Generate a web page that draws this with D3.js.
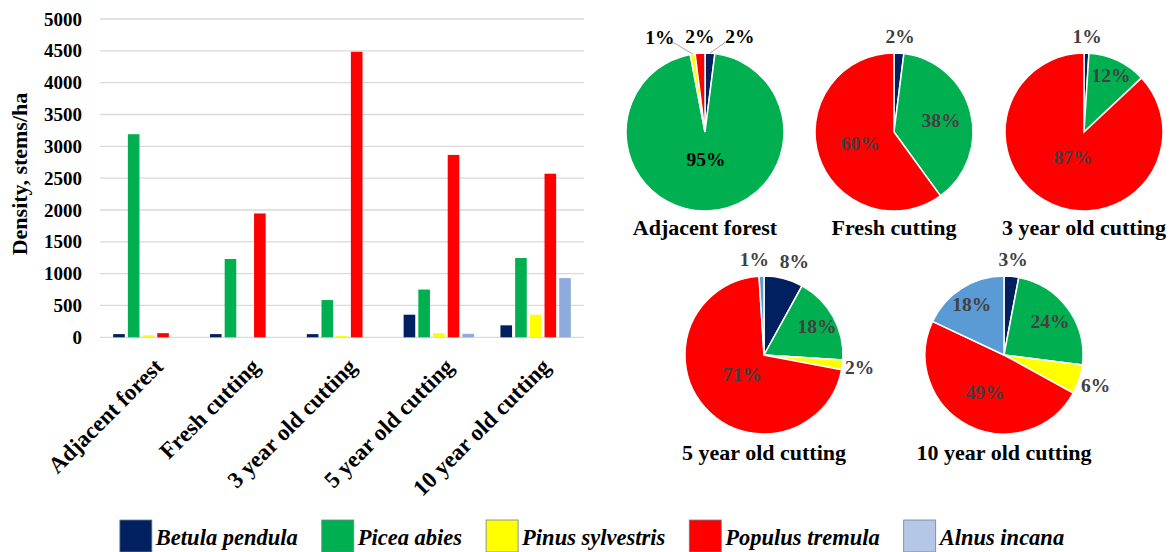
<!DOCTYPE html>
<html>
<head>
<meta charset="utf-8">
<script src="https://cdn.jsdelivr.net/npm/d3@7"></script>
<style>
  body { margin: 0; background: #fff; }
  text { font-family: "Liberation Serif", "Times New Roman", serif; font-weight: bold; }
</style>
</head>
<body>
<svg id="chart" width="1173" height="552"></svg>
<script>
// sites and species
const sites = ['Adjacent forest', 'Fresh cutting', '3 year old cutting', '5 year old cutting', '10 year old cutting'];
const species = ['Betula pendula', 'Picea abies', 'Pinus sylvestris', 'Populus tremula', 'Alnus incana'];

// density, stems/ha (bar chart), one array per species in site order
const betula = [50, 50, 50, 355, 188];
const picea = [3190, 1230, 585, 750, 1245];
const pinus = [30, 0, 20, 65, 355];
const populus = [65, 1945, 4485, 2865, 2570];
const alnus = [0, 0, 0, 55, 930];

// pie shares in %, species order
const shareAdjacent = [2, 95, 1, 2, 0];
const shareFresh = [2, 38, 0, 60, 0];
const share3yr = [1, 12, 0, 87, 0];
const share5yr = [8, 18, 2, 71, 1];
const share10yr = [3, 24, 6, 49, 18];

const yTicks = [0, 500, 1000, 1500, 2000, 2500, 3000, 3500, 4000, 4500, 5000];

const barColors = ['#002060', '#00B050', '#FFFF00', '#FF0000', '#8FAADC'];
const pieColors = ['#002060', '#00B050', '#FFFF00', '#FF0000', '#5B9BD5'];
const legendColors = ['#002060', '#00B050', '#FFFF00', '#FF0000', '#B4C7E7'];

const svg = d3.select('svg#chart');
const seriesValues = [betula, picea, pinus, populus, alnus];

// ---- bar chart ----
const x0 = d3.scaleBand().domain(sites).range([100, 584]).paddingInner(0.273).paddingOuter(0.136);
const x1 = d3.scaleBand().domain(species).range([0, x0.bandwidth()]).paddingInner(0.21);
const y = d3.scaleLinear().domain([0, 5000]).range([337.3, 19]);

const grid = svg.append('g');
grid.selectAll('line').data(yTicks).join('line')
  .attr('x1', 100).attr('x2', 584)
  .attr('y1', d => y(d)).attr('y2', d => y(d))
  .attr('stroke', '#d9d9d9').attr('stroke-width', 1.3);

const yAxis = svg.append('g').attr('transform', 'translate(84,0)')
  .call(d3.axisLeft(y).tickValues(yTicks).tickFormat(d3.format('d')).tickSize(0).tickPadding(2));
yAxis.select('.domain').remove();
yAxis.selectAll('text').attr('font-size', 19).attr('font-family', null).attr('fill', '#000');

svg.append('text')
  .attr('transform', 'translate(27,174) rotate(-90)')
  .attr('text-anchor', 'middle').attr('font-size', 22)
  .text('Density, stems/ha');

const groups = svg.append('g').selectAll('g').data(sites).join('g')
  .attr('transform', d => `translate(${x0(d)},0)`);
groups.selectAll('rect')
  .data((site, i) => species.map((sp, k) => ({sp, k, v: seriesValues[k][i]})))
  .join('rect')
  .attr('x', d => x1(d.sp))
  .attr('width', x1.bandwidth())
  .attr('y', d => y(d.v))
  .attr('height', d => y(0) - y(d.v))
  .attr('fill', d => barColors[d.k]);

svg.append('g').selectAll('text').data(sites).join('text')
  .attr('transform', d => `translate(${x0(d) + x0.bandwidth() / 2 + 16},368) rotate(-45)`)
  .attr('text-anchor', 'end').attr('font-size', 23)
  .text(d => d);

// ---- pies ----
const pieShares = [shareAdjacent, shareFresh, share3yr, share5yr, share10yr];
const r = 79;
const pieCenters = [[705, 132], [894, 132], [1084, 132], [764, 355], [1004, 355]];
const titleY = [235, 235, 235, 460, 460];
const pie = d3.pie().sort(null).value(d => d.share);
const arc = d3.arc().innerRadius(0).outerRadius(r);

pieShares.forEach((shares, p) => {
  const [cx, cy] = pieCenters[p];
  const g = svg.append('g').attr('transform', `translate(${cx},${cy})`);
  const arcs = pie(shares.map((share, k) => ({share, k})));
  g.selectAll('path').data(arcs.filter(a => a.data.share > 0)).join('path')
    .attr('d', arc)
    .attr('fill', a => pieColors[a.data.k])
    .attr('stroke', '#fff').attr('stroke-width', 1.5);

  // label placement
  const labels = arcs.filter(a => a.data.share > 0).map(a => {
    const mid = (a.startAngle + a.endAngle) / 2;
    const s = a.data.share / 100;
    const outside = a.data.share < 10;
    const f = outside ? 1.22 : Math.max(0.35, Math.min(0.8, 0.9 - 0.75 * s));
    const px = Math.sin(mid) * r * f, py = -Math.cos(mid) * r * f;
    return {a, mid, outside, x: px, y: py, x0: px, y0: py, text: a.data.share + '%'};
  });
  const outs = labels.filter(l => l.outside).sort((m, n) => m.x - n.x);
  for (let it = 0; it < 80; it++) {
    for (let i = 0; i < outs.length - 1; i++) {
      const m = outs[i], n = outs[i + 1];
      if (Math.abs(m.y - n.y) < 20 && n.x - m.x < 40) {
        const push = (40 - (n.x - m.x)) / 2;
        m.x -= push; n.x += push;
      }
    }
  }
  labels.forEach(l => {
    if (Math.hypot(l.x - l.x0, l.y - l.y0) > 10) {
      const ax = Math.sin(l.mid) * r, ay = -Math.cos(l.mid) * r;
      const ex = l.x < ax ? l.x + 14 : l.x - 14;
      g.append('polyline')
        .attr('points', [[ax, ay], [ex, l.y + 6], [l.x + (l.x < ax ? 10 : -10), l.y + 6]].map(q => q.join(',')).join(' '))
        .attr('fill', 'none').attr('stroke', '#a6a6a6').attr('stroke-width', 1);
    }
  });
  g.selectAll('text.lbl').data(labels).join('text')
    .attr('class', 'lbl')
    .attr('x', l => l.x).attr('y', l => l.y).attr('dy', '0.35em')
    .attr('text-anchor', 'middle').attr('font-size', 19.5)
    .attr('fill', p === 0 ? '#000' : '#404040')
    .text(l => l.text);

  svg.append('text')
    .attr('x', cx).attr('y', titleY[p])
    .attr('text-anchor', 'middle').attr('font-size', 22)
    .text(sites[p]);
});

// ---- legend ----
const legend = svg.append('g');
const items = legend.selectAll('g').data(species).join('g');
items.append('rect')
  .attr('width', 32).attr('height', 32).attr('y', 520)
  .attr('fill', (d, i) => legendColors[i])
  .attr('stroke', '#6f7f99').attr('stroke-width', 0.8);
items.append('text')
  .attr('x', 36).attr('y', 545).attr('font-size', 22.5).attr('font-style', 'italic')
  .text(d => d);
let widths = [];
items.each(function() { widths.push(36 + d3.select(this).select('text').node().getComputedTextLength()); });
const gap = 24;
const total = d3.sum(widths) + gap * (widths.length - 1);
let pos = 592 - total / 2;
items.attr('transform', (d, i) => { const t = `translate(${pos},0)`; pos += widths[i] + gap; return t; });
</script>
</body>
</html>
